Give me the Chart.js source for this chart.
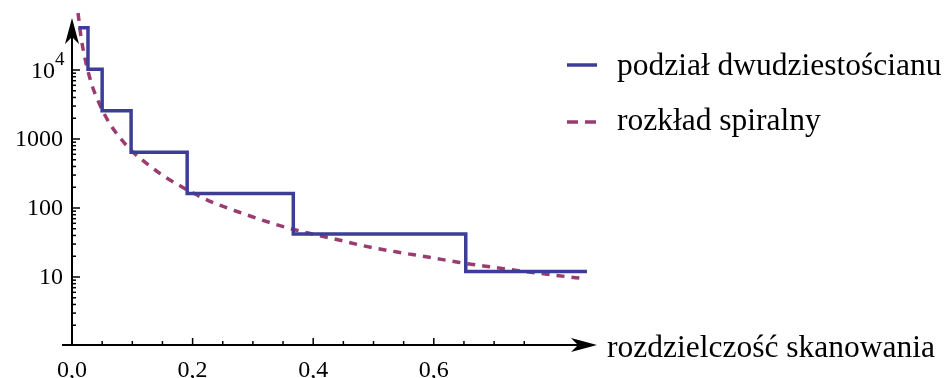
<!DOCTYPE html>
<html>
<head>
<meta charset="utf-8">
<script src="https://cdn.jsdelivr.net/npm/chart.js@4"></script>
<style>
  html, body { margin: 0; padding: 0; background: #fff; }
  #wrap { width: 947px; height: 378px; position: relative; }
</style>
</head>
<body>
<div id="wrap"><canvas id="resChart"></canvas></div>
<script>
// =========================
// Data
// =========================

// icosahedron subdivision: resolution edges and vertex counts
const stepEdges = [0.0105, 0.0265, 0.050, 0.098, 0.191, 0.367, 0.653, 0.854];
const stepCounts = [40962, 10242, 2562, 642, 162, 42, 12];

// spiral distribution
const spiralRes = [0.010, 0.015, 0.020, 0.028, 0.035, 0.042, 0.051, 0.063, 0.080, 0.100,
    0.124, 0.151, 0.179, 0.200, 0.232, 0.282, 0.332, 0.383, 0.433, 0.486,
    0.539, 0.590, 0.643, 0.697, 0.748, 0.801, 0.852];
const spiralCounts = [67000, 30000, 17000, 8600, 5400, 3800, 2550, 1650, 1030, 660,
    440, 295, 210, 166, 122, 84, 60, 45, 36, 28,
    23, 19.5, 16.2, 13.9, 12.1, 10.6, 9.4];

const xTickValues = [0, 0.2, 0.4, 0.6];
const xTickLabels = ['0,0', '0,2', '0,4', '0,6'];
const yTickValues = [10, 100, 1000, 10000];
const yTickLabels = ['10', '100', '1000', '10|4'];

const legendLabels = ['podział dwudziestościanu', 'rozkład spiralny'];
const xAxisTitle = 'rozdzielczość skanowania';

const blue = '#3d3d99';
const purple = '#993d71';
const serif = '"Liberation Serif", "Times New Roman", serif';

// step points: each count holds from its edge to the next edge
const stepPoints = [{ x: stepEdges[0], y: stepCounts[0] }];
stepCounts.forEach((c, i) => stepPoints.push({ x: stepEdges[i + 1], y: c }));

const spiralPoints = spiralRes.map((r, i) => ({ x: r, y: spiralCounts[i] }));

// =========================
// Axes, ticks, legend drawn with the chart's scales
// =========================
function arrowHead(ctx, tx, ty, dir) {
    const len = 26, half = 7, notch = 7;
    ctx.beginPath();
    if (dir === 'up') {
        ctx.moveTo(tx, ty);
        ctx.lineTo(tx - half, ty + len);
        ctx.lineTo(tx, ty + len - notch);
        ctx.lineTo(tx + half, ty + len);
    } else {
        ctx.moveTo(tx, ty);
        ctx.lineTo(tx - len, ty - half);
        ctx.lineTo(tx - len + notch, ty);
        ctx.lineTo(tx - len, ty + half);
    }
    ctx.closePath();
    ctx.fill();
}

const axesPlugin = {
    id: 'mmaAxes',
    beforeDatasetsDraw(chart) {
        const ctx = chart.ctx;
        const xs = chart.scales.x, ys = chart.scales.y;
        const x0 = xs.getPixelForValue(0);
        const y0 = ys.getPixelForValue(1) - 1;
        ctx.save();
        ctx.strokeStyle = '#000';
        ctx.fillStyle = '#000';
        ctx.lineWidth = 2;

        // axis lines
        ctx.beginPath();
        ctx.moveTo(62, y0);
        ctx.lineTo(590, y0);
        ctx.moveTo(x0, y0 + 1);
        ctx.lineTo(x0, 26);
        ctx.stroke();
        arrowHead(ctx, 597, y0, 'right');
        arrowHead(ctx, x0, 18, 'up');

        // x ticks
        ctx.lineWidth = 1.5;
        for (let k = 1; k <= 15; k++) {
            const px = xs.getPixelForValue(k * 0.05);
            const major = k % 4 === 0;
            ctx.beginPath();
            ctx.moveTo(px, y0);
            ctx.lineTo(px, y0 - (major ? 7 : 4));
            ctx.stroke();
        }
        // y ticks (log)
        for (let e = 0; e <= 3; e++) {
            for (let m = 1; m <= 9; m++) {
                const v = m * Math.pow(10, e);
                if (v === 1) continue;
                const py = ys.getPixelForValue(v);
                ctx.beginPath();
                ctx.moveTo(x0, py);
                ctx.lineTo(x0 + (m === 1 ? 8 : 4), py);
                ctx.stroke();
            }
        }
        const py4 = ys.getPixelForValue(10000);
        ctx.beginPath();
        ctx.moveTo(x0, py4);
        ctx.lineTo(x0 + 8, py4);
        ctx.stroke();

        // tick labels
        ctx.font = '24px ' + serif;
        ctx.textBaseline = 'alphabetic';
        ctx.textAlign = 'center';
        xTickValues.forEach((v, i) => {
            ctx.fillText(xTickLabels[i], xs.getPixelForValue(v), 377);
        });
        ctx.textAlign = 'right';
        ctx.textBaseline = 'middle';
        yTickValues.forEach((v, i) => {
            const py = ys.getPixelForValue(v);
            const lab = yTickLabels[i];
            if (lab.includes('|')) {
                const parts = lab.split('|');
                ctx.font = '24px ' + serif;
                ctx.fillText(parts[0], 55, py + 2);
                ctx.font = '19px ' + serif;
                ctx.textAlign = 'left';
                ctx.fillText(parts[1], 55, py - 10);
                ctx.textAlign = 'right';
            } else {
                ctx.fillText(lab, 63, py + 1);
            }
        });

        // axis title
        ctx.font = '31.5px ' + serif;
        ctx.textAlign = 'left';
        ctx.textBaseline = 'alphabetic';
        ctx.fillText(xAxisTitle, 607, 357);

        // legend
        ctx.lineWidth = 3.5;
        ctx.strokeStyle = blue;
        ctx.beginPath();
        ctx.moveTo(567, 65);
        ctx.lineTo(597, 65);
        ctx.stroke();
        ctx.strokeStyle = purple;
        ctx.setLineDash([11, 7]);
        ctx.beginPath();
        ctx.moveTo(567, 122);
        ctx.lineTo(597, 122);
        ctx.stroke();
        ctx.setLineDash([]);
        ctx.fillStyle = '#000';
        ctx.fillText(legendLabels[0], 617, 75);
        ctx.fillText(legendLabels[1], 617, 130);
        ctx.restore();
    }
};

// =========================
// Chart
// =========================
const resCtx = document.getElementById('resChart');

new Chart(resCtx, {
    type: 'line',
    data: {
        datasets: [{
            label: legendLabels[0],
            data: stepPoints,
            stepped: 'after',
            borderColor: blue,
            borderWidth: 3.5,
            pointRadius: 0,
            fill: false
        }, {
            label: legendLabels[1],
            data: spiralPoints,
            borderColor: purple,
            borderWidth: 3.5,
            borderDash: [8, 7],
            cubicInterpolationMode: 'monotone',
            pointRadius: 0,
            fill: false
        }]
    },
    options: {
        responsive: true,
        maintainAspectRatio: false,
        animation: false,
        devicePixelRatio: 1,
        layout: {
            padding: { left: 72, right: 332.3, top: 1, bottom: 32 }
        },
        plugins: {
            legend: { display: false },
            tooltip: { enabled: false }
        },
        scales: {
            x: { type: 'linear', min: 0, max: 0.9, display: false },
            y: { type: 'logarithmic', min: 1, max: 100000, display: false }
        }
    },
    plugins: [axesPlugin]
});
</script>
</body>
</html>
